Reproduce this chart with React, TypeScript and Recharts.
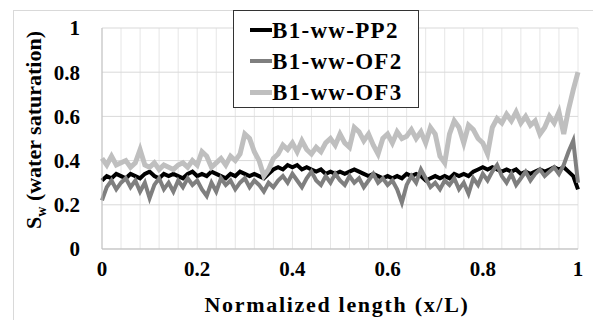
import { LineChart, Line, XAxis, YAxis, CartesianGrid } from 'recharts'

// samples every 0.01 of x/L
const pp2 = [
  0.31, 0.33, 0.32, 0.34, 0.33, 0.32, 0.34, 0.33, 0.32, 0.34,
  0.35, 0.33, 0.32, 0.34, 0.33, 0.34, 0.33, 0.32, 0.34, 0.35,
  0.33, 0.34, 0.33, 0.35, 0.34, 0.33, 0.32, 0.34, 0.33, 0.35,
  0.34, 0.33, 0.34, 0.33, 0.32, 0.34, 0.36, 0.37, 0.36, 0.38,
  0.37, 0.38, 0.36, 0.37, 0.36, 0.35, 0.36, 0.34, 0.35, 0.34,
  0.35, 0.34, 0.35, 0.36, 0.35, 0.34, 0.33, 0.34, 0.33, 0.32,
  0.33, 0.32, 0.33, 0.32, 0.34, 0.33, 0.34, 0.33, 0.31, 0.32,
  0.33, 0.32, 0.33, 0.32, 0.34, 0.33, 0.34, 0.33, 0.35, 0.36,
  0.37, 0.36, 0.37, 0.36, 0.35, 0.36, 0.35, 0.36, 0.34, 0.35,
  0.34, 0.35, 0.36, 0.35, 0.36, 0.37, 0.36, 0.37, 0.35, 0.33,
  0.27,
]

const of2 = [
  0.22, 0.28, 0.31, 0.27, 0.30, 0.32, 0.28, 0.31, 0.26, 0.30,
  0.23, 0.29, 0.32, 0.27, 0.30, 0.26, 0.31, 0.28, 0.32, 0.29,
  0.31, 0.27, 0.24, 0.30, 0.26, 0.32, 0.29, 0.31, 0.27, 0.30,
  0.32, 0.28, 0.31, 0.29, 0.26, 0.30, 0.28, 0.31, 0.33, 0.30,
  0.34, 0.31, 0.28, 0.32, 0.35, 0.31, 0.29, 0.33, 0.30, 0.34,
  0.31, 0.29, 0.33, 0.30, 0.32, 0.28, 0.31, 0.34, 0.30, 0.32,
  0.29, 0.31, 0.27, 0.21, 0.29, 0.33, 0.30, 0.36, 0.32, 0.28,
  0.30, 0.27, 0.31, 0.29, 0.32, 0.27, 0.30, 0.25, 0.32, 0.29,
  0.34, 0.31, 0.35, 0.38, 0.33, 0.30, 0.34, 0.29, 0.32, 0.35,
  0.31, 0.34, 0.36, 0.33, 0.35, 0.37, 0.34, 0.38, 0.44, 0.49,
  0.30,
]

const of3 = [
  0.41, 0.38, 0.42, 0.38, 0.39, 0.40, 0.37, 0.39, 0.45, 0.38,
  0.37, 0.39, 0.36, 0.38, 0.37, 0.36, 0.38, 0.39, 0.37, 0.40,
  0.38, 0.44, 0.42, 0.37, 0.39, 0.41, 0.38, 0.42, 0.40, 0.43,
  0.52, 0.50, 0.44, 0.40, 0.33, 0.36, 0.41, 0.43, 0.47, 0.45,
  0.48, 0.44, 0.49, 0.45, 0.43, 0.46, 0.44, 0.48, 0.50, 0.47,
  0.52, 0.48, 0.46, 0.55, 0.53, 0.49, 0.52, 0.47, 0.43, 0.50,
  0.52, 0.48, 0.53, 0.50, 0.51, 0.54, 0.50, 0.53, 0.48, 0.55,
  0.52, 0.42, 0.39, 0.52, 0.58, 0.55, 0.48, 0.56, 0.54, 0.50,
  0.48, 0.43, 0.55, 0.59, 0.57, 0.61, 0.58, 0.62, 0.57, 0.60,
  0.56, 0.58, 0.52, 0.55, 0.60, 0.57, 0.62, 0.52, 0.63, 0.72,
  0.80,
]

const xTicks = [
  0, 0.04, 0.08, 0.12, 0.16, 0.2, 0.24, 0.28, 0.32, 0.36, 0.4, 0.44, 0.48,
  0.52, 0.56, 0.6, 0.64, 0.68, 0.72, 0.76, 0.8, 0.84, 0.88, 0.92, 0.96, 1,
]
const xLabels = [0, 0.2, 0.4, 0.6, 0.8, 1]
const yTicks = [0, 0.2, 0.4, 0.6, 0.8, 1]

const series = [
  { key: 'pp2', name: 'B1-ww-PP2', color: '#000000', width: 4 },
  { key: 'of2', name: 'B1-ww-OF2', color: '#7f7f7f', width: 4 },
  { key: 'of3', name: 'B1-ww-OF3', color: '#bfbfbf', width: 5 },
]

const data = pp2.map((v, i) => ({ x: i / 100, pp2: v, of2: of2[i], of3: of3[i] }))

const font = "'Times New Roman', Times, Tinos, 'Liberation Serif', 'DejaVu Serif', 'Noto Serif', FreeSerif, serif"

const XTick = (props: any) => {
  const { x, y, payload } = props
  if (!xLabels.some((t) => Math.abs(t - payload.value) < 1e-6)) return null
  return (
    <text x={x} y={y} dy="0.71em" textAnchor="middle" style={{ fontFamily: font }} fontWeight="bold" fontSize={21} fill="#000">
      {payload.value}
    </text>
  )
}

const YTick = (props: any) => {
  const { x, y, payload } = props
  return (
    <text x={x} y={y} dy="0.35em" textAnchor="end" style={{ fontFamily: font }} fontWeight="bold" fontSize={21} fill="#000">
      {payload.value}
    </text>
  )
}

export default function App() {
  return (
    <div style={{ position: 'absolute', left: 0, top: 0, width: 593, height: 320, background: '#fff', overflow: 'hidden', fontFamily: font }}>
      <div style={{ position: 'absolute', left: 13, top: 10, width: 600, height: 330, borderLeft: '1px solid #d9d9d9', borderTop: '1px solid #d9d9d9' }} />
      <LineChart width={593} height={320} data={data} margin={{ top: 28, right: 15, bottom: 41, left: 42 }}>
        <CartesianGrid horizontal={false} stroke="#e6e6e6" strokeWidth={1} />
        <CartesianGrid vertical={false} stroke="#d9d9d9" strokeWidth={1} />
        <XAxis
          dataKey="x"
          type="number"
          domain={[0, 1]}
          ticks={xTicks}
          interval={0}
          tick={<XTick />}
          tickLine={false}
          tickSize={0}
          tickMargin={12}
          height={30}
          stroke="#bfbfbf"
        />
        <YAxis
          type="number"
          domain={[0, 1]}
          ticks={yTicks}
          tick={<YTick />}
          tickLine={false}
          tickSize={0}
          tickMargin={22}
          width={60}
          stroke="#bfbfbf"
        />
        {series.map((s) => (
          <Line
            key={s.key}
            type="linear"
            dataKey={s.key}
            stroke={s.color}
            strokeWidth={s.width}
            dot={false}
            isAnimationActive={false}
          />
        ))}
      </LineChart>
      <div
        style={{
          position: 'absolute',
          left: 36,
          top: 130,
          transform: 'translate(-50%, -50%) rotate(-90deg)',
          whiteSpace: 'nowrap',
          fontWeight: 'bold',
          fontSize: 22,
          lineHeight: 1,
        }}
      >
        S<sub style={{ fontSize: 14 }}>w</sub> (water saturation)
      </div>
      <div
        style={{
          position: 'absolute',
          left: 337,
          top: 305,
          transform: 'translate(-50%, -50%)',
          whiteSpace: 'nowrap',
          fontWeight: 'bold',
          fontSize: 22,
          letterSpacing: 1.7,
          lineHeight: 1,
        }}
      >
        Normalized length (x/L)
      </div>
      <div
        style={{
          position: 'absolute',
          left: 233,
          top: 10,
          width: 184,
          height: 96,
          border: '1px solid #333',
          background: '#fff',
        }}
      >
        {series.map((s, i) => (
          <div key={s.key} style={{ position: 'absolute', left: 16, top: 19 + i * 31 - 14, height: 28, display: 'flex', alignItems: 'center' }}>
            <div style={{ width: 22, height: s.width, background: s.color }} />
            <span style={{ fontWeight: 'bold', fontSize: 23, letterSpacing: 1.3, lineHeight: 1, whiteSpace: 'nowrap' }}>{s.name}</span>
          </div>
        ))}
      </div>
    </div>
  )
}
